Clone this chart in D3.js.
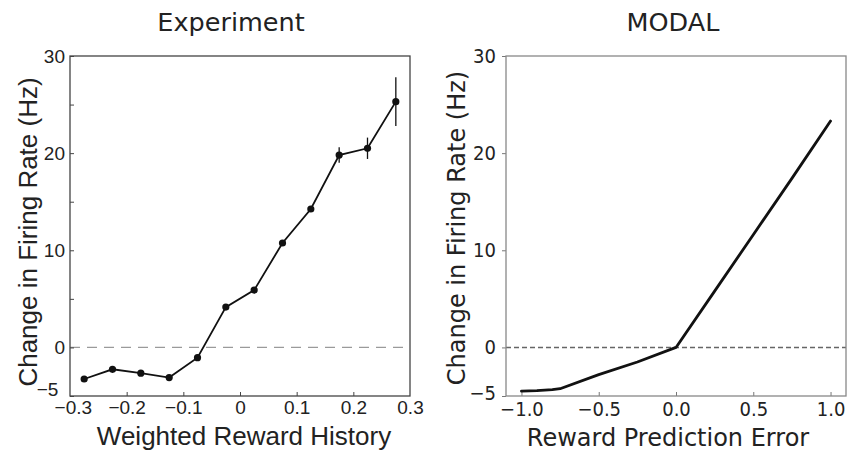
<!DOCTYPE html>
<html>
<head>
<meta charset="utf-8">
<script src="https://cdn.jsdelivr.net/npm/d3@7"></script>
<style>
  html, body { margin: 0; padding: 0; background: #fff; }
  svg { display: block; }
</style>
</head>
<body>
<svg id="chart" width="851" height="452"></svg>
<script>
// Experiment: firing-rate change vs weighted reward history (binned means, SEM)
const expX   = [-0.275, -0.225, -0.175, -0.125, -0.075, -0.025, 0.025, 0.075, 0.125, 0.175, 0.225, 0.275];
const expY   = [-3.25, -2.25, -2.65, -3.1, -1.05, 4.15, 5.9, 10.75, 14.25, 19.8, 20.5, 25.3];
const expErr = [0.3, 0.3, 0.3, 0.3, 0.3, 0.3, 0.3, 0.3, 0.3, 0.8, 1.1, 2.5];

// MODAL: simulated firing-rate change vs reward prediction error
const rpeX = [-1.0, -0.9, -0.8, -0.75, -0.5, -0.25, 0.0, 0.25, 0.5, 0.75, 1.0];
const rpeY = [-4.5, -4.45, -4.35, -4.25, -2.8, -1.5, 0.0, 5.8, 11.6, 17.4, 23.3];

// Axis ticks
const yTicksAll   = [-5, 0, 5, 10, 15, 20, 25, 30];
const yTickLabels = [-5, 0, 10, 20, 30];
const expXTicks   = [-0.3, -0.2, -0.1, 0, 0.1, 0.2, 0.3];
const rpeXTicks   = [-1.0, -0.5, 0.0, 0.5, 1.0];

const titles  = ["Experiment", "MODAL"];
const yLabel  = "Change in Firing Rate (Hz)";
const xLabels = ["Weighted Reward History", "Reward Prediction Error"];

const svg = d3.select("#chart");
const helv = "'Liberation Sans', Arial, Helvetica, sans-serif";
const dejavu = "'DejaVu Sans', sans-serif";
const dejavuC = "'DejaVu Sans Condensed', 'DejaVu Sans', sans-serif";

// ---------- Left panel ----------
const L = { left: 70, right: 410, top: 56, bottom: 396 };
const xL = d3.scaleLinear().domain([-0.3, 0.3]).range([L.left, L.right]);
const yL = d3.scaleLinear().domain([-5, 30]).range([L.bottom, L.top]);

const gL = svg.append("g");

// zero reference
gL.append("line")
  .attr("x1", L.left).attr("x2", L.right)
  .attr("y1", yL(0)).attr("y2", yL(0))
  .attr("stroke", "#9a9a9a").attr("stroke-width", 1.2)
  .attr("stroke-dasharray", "10,7");

// y axis (inward ticks)
const axL = gL.append("g").attr("transform", `translate(${L.left},0)`)
  .call(d3.axisLeft(yL).tickValues(yTicksAll).tickSize(-4).tickPadding(5)
    .tickFormat(d => yTickLabels.includes(d) ? d3.format("d")(d) : ""));
axL.select(".domain").remove();
axL.selectAll(".tick line").attr("stroke", "#444");
axL.selectAll(".tick text").attr("font-family", helv).attr("font-size", 19).attr("fill", "#222");
axL.selectAll(".tick text").filter(d => d === -5).attr("dy", "-0.05em").attr("dx", "-0.35em");

// x axis (inward ticks)
const axLB = gL.append("g").attr("transform", `translate(0,${L.bottom})`)
  .call(d3.axisBottom(xL).tickValues(expXTicks).tickSize(-4).tickPadding(5)
    .tickFormat(d => d === 0 ? "0" : d3.format(".1f")(d)));
axLB.select(".domain").remove();
axLB.selectAll(".tick line").attr("stroke", "#444")
  .filter(d => d === -0.3 || d === 0.3).remove();
axLB.selectAll(".tick text").attr("font-family", helv).attr("font-size", 19).attr("fill", "#222");
axLB.selectAll(".tick text").filter(d => d === -0.3).attr("dx", "0.15em");

// frame
gL.append("rect")
  .attr("x", L.left).attr("y", L.top)
  .attr("width", L.right - L.left).attr("height", L.bottom - L.top)
  .attr("fill", "none").attr("stroke", "#444").attr("stroke-width", 1.3);

const expData = expX.map((x, i) => ({ x, y: expY[i], e: expErr[i] }));

// error bars
gL.append("g").selectAll("line").data(expData).join("line")
  .attr("x1", d => xL(d.x)).attr("x2", d => xL(d.x))
  .attr("y1", d => yL(d.y - d.e)).attr("y2", d => yL(d.y + d.e))
  .attr("stroke", "#111").attr("stroke-width", 1.3);

// mean line
gL.append("path").datum(expData)
  .attr("d", d3.line().x(d => xL(d.x)).y(d => yL(d.y)))
  .attr("fill", "none").attr("stroke", "#111").attr("stroke-width", 1.8);

// markers
gL.append("g").selectAll("circle").data(expData).join("circle")
  .attr("cx", d => xL(d.x)).attr("cy", d => yL(d.y)).attr("r", 3.6)
  .attr("fill", "#111");

// labels
gL.append("text").text(titles[0])
  .attr("x", 231).attr("y", 31).attr("text-anchor", "middle")
  .attr("font-family", dejavu).attr("font-size", 25.5).attr("fill", "#222");
gL.append("text").text(xLabels[0])
  .attr("x", 244).attr("y", 445).attr("text-anchor", "middle")
  .attr("font-family", helv).attr("font-size", 26).attr("fill", "#222");
gL.append("text").text(yLabel)
  .attr("transform", "translate(37,232) rotate(-90)").attr("text-anchor", "middle")
  .attr("font-family", helv).attr("font-size", 26).attr("fill", "#222");

// ---------- Right panel ----------
const R = { left: 506, right: 846, top: 56, bottom: 396 };
const xR = d3.scaleLinear().domain([-1.1, 1.1]).range([R.left, R.right]);
const yR = d3.scaleLinear().domain([-5, 30]).range([R.bottom, R.top]);

const gR = svg.append("g");

gR.append("line")
  .attr("x1", R.left).attr("x2", R.right)
  .attr("y1", yR(0)).attr("y2", yR(0))
  .attr("stroke", "#666").attr("stroke-width", 1.5)
  .attr("stroke-dasharray", "5,3");

// y axis (outward ticks)
const axR = gR.append("g").attr("transform", `translate(${R.left},0)`)
  .call(d3.axisLeft(yR).tickValues(yTickLabels).tickSize(4).tickPadding(6)
    .tickFormat(d3.format("d")));
axR.select(".domain").remove();
axR.selectAll(".tick line").attr("stroke", "#777");
axR.selectAll(".tick text").attr("font-family", dejavuC).attr("font-size", 20).attr("fill", "#222");
axR.selectAll(".tick text").filter(d => d === -5).attr("dy", "0.15em");

// x axis (inward ticks)
const axRB = gR.append("g").attr("transform", `translate(0,${R.bottom})`)
  .call(d3.axisBottom(xR).tickValues(rpeXTicks).tickSize(-4).tickPadding(6)
    .tickFormat(d3.format(".1f")));
axRB.select(".domain").remove();
axRB.selectAll(".tick line").attr("stroke", "#777");
axRB.selectAll(".tick text").attr("font-family", dejavuC).attr("font-size", 20).attr("fill", "#222");

gR.append("rect")
  .attr("x", R.left).attr("y", R.top)
  .attr("width", R.right - R.left).attr("height", R.bottom - R.top)
  .attr("fill", "none").attr("stroke", "#888").attr("stroke-width", 1.3);

const rpeData = rpeX.map((x, i) => ({ x, y: rpeY[i] }));
gR.append("path").datum(rpeData)
  .attr("d", d3.line().x(d => xR(d.x)).y(d => yR(d.y)))
  .attr("fill", "none").attr("stroke", "#111").attr("stroke-width", 2.8)
  .attr("stroke-linejoin", "round").attr("stroke-linecap", "round");

gR.append("text").text(titles[1])
  .attr("x", 673).attr("y", 31).attr("text-anchor", "middle")
  .attr("font-family", dejavu).attr("font-size", 25.5).attr("fill", "#222");
gR.append("text").text(xLabels[1])
  .attr("x", 668).attr("y", 446).attr("text-anchor", "middle")
  .attr("font-family", dejavu).attr("font-size", 24).attr("fill", "#222");
gR.append("text").text(yLabel)
  .attr("transform", "translate(465,228) rotate(-90)").attr("text-anchor", "middle")
  .attr("font-family", dejavu).attr("font-size", 24).attr("fill", "#222");
</script>
</body>
</html>
